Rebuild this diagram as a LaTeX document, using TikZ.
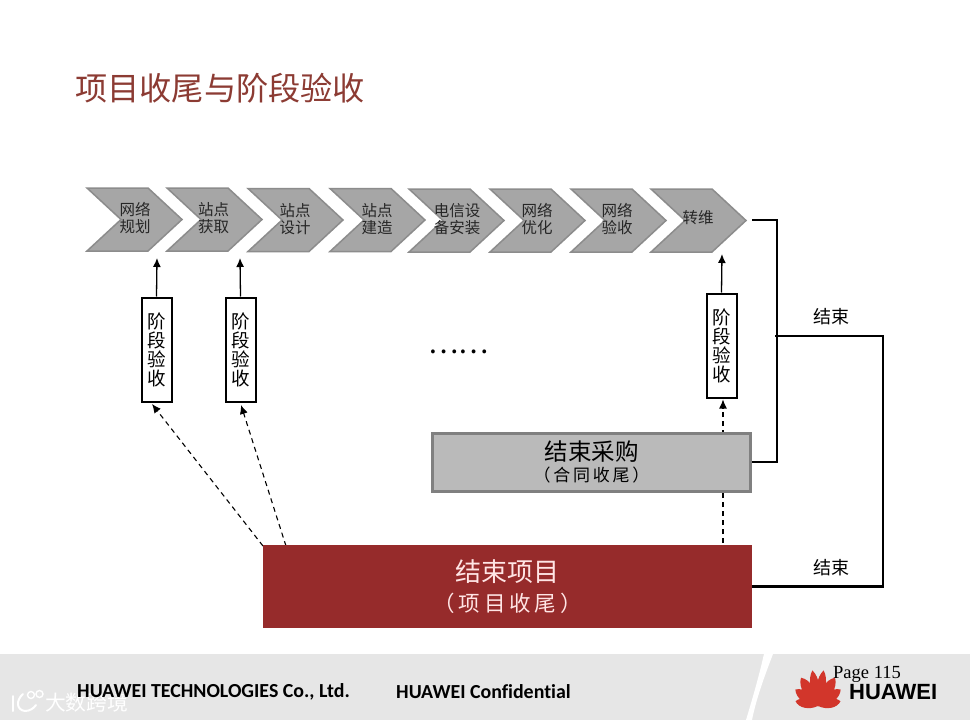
\documentclass[tikz,border=0pt]{standalone}
\usepackage{fontspec}
\setmainfont{Noto Sans CJK SC}
\newfontfamily\latinf[Ligatures=NoCommon]{Carlito}
\newfontfamily\logof{Liberation Sans}
\newfontfamily\pagef{Liberation Serif}
\usetikzlibrary{arrows.meta}
\definecolor{chev}{HTML}{A6A6A6}
\definecolor{chevb}{HTML}{8C8C8C}
\definecolor{darkred}{HTML}{962B2B}
\definecolor{titlec}{HTML}{8C3B33}
\definecolor{band}{HTML}{E6E6E6}
\definecolor{logored}{HTML}{D2362B}
\tikzset{
  x=1pt,y=-1pt,
  chevlabel/.style={font=\fontsize{15.5}{17}\selectfont,align=center,text=black!85},
  stagebox/.style={draw=black,line width=2pt,fill=white,minimum width=30pt,minimum height=104pt,inner sep=0pt,align=center,font=\fontsize{18.5}{19}\selectfont},
  solidarrow/.style={line width=1.3pt,-{Latex[length=9pt,width=8pt]}},
  dasharrow/.style={line width=1.1pt,dash pattern=on 5pt off 4pt,-{Latex[length=9pt,width=8pt]}},
  joinline/.style={line width=1.6pt},
  endline/.style={line width=2.6pt},
  endlabel/.style={font=\fontsize{18}{19}\selectfont},
  markstroke/.style={draw=white,line width=2pt,line cap=round}
}
\newcommand{\chevshape}[2]{%
  \draw[fill=chev,draw=chevb,line width=1.5pt,line join=miter]
    (#1,#2) -- ++(61,0) -- ++(34,31.5) -- ++(-34,31.5) -- ++(-61,0) -- ++(34,-31.5) -- cycle;}
\newcommand{\logopetal}[3]{% angle, length, half-width
  \fill[logored,shift={(818,706)},rotate=#1] (0,0) .. controls (-#3,-0.35*#2) and (-#3,-0.8*#2) .. (0,-#2) .. controls (#3,-0.8*#2) and (#3,-0.35*#2) .. (0,0) -- cycle;}
\begin{document}
\begin{tikzpicture}
\useasboundingbox (0,0) rectangle (970,720);
\fill[white] (0,0) rectangle (970,720);
% footer
\fill[band] (0,654) rectangle (970,720);
\fill[white] (764,654) .. controls (758,680) and (752,700) .. (746,720) -- (752,720) .. controls (756,700) and (763,680) .. (773,654) -- cycle;
% title
\node[anchor=west,inner sep=0pt,text=titlec,font=\fontsize{32.2}{34}\selectfont] (title) at (75,88) {项目收尾与阶段验收};
% chevrons
\chevshape{87}{188}
\chevshape{167}{188}
\chevshape{248}{188.5}
\chevshape{330}{188.5}
\chevshape{409}{189}
\chevshape{490}{189}
\chevshape{571}{189}
\chevshape{651}{189}
\node[chevlabel] (c1) at (135,218) {网络\\规划};
\node[chevlabel] (c2) at (213.5,218) {站点\\获取};
\node[chevlabel] (c3) at (295,219) {站点\\设计};
\node[chevlabel] (c4) at (377,219) {站点\\建造};
\node[chevlabel] (c5) at (457,219) {电信设\\备安装};
\node[chevlabel] (c6) at (537,219) {网络\\优化};
\node[chevlabel] (c7) at (617,219) {网络\\验收};
\node[chevlabel] (c8) at (698,218) {转维};
\coordinate (c1in) at (157,258);
\coordinate (c2in) at (240,258);
\coordinate (c8in) at (722,254);
\coordinate (c8out) at (752,220);
% stage boxes
\node[stagebox] (s1) at (156.5,349.5) {阶\\段\\验\\收};
\node[stagebox] (s2) at (240.5,349.5) {阶\\段\\验\\收};
\node[stagebox] (s3) at (721.5,345.5) {阶\\段\\验\\收};
\node[inner sep=0pt,font=\fontsize{28.5}{29}\selectfont] (dots) at (458.5,352) {……};
% dashed first so boxes lie on them
\coordinate (r1) at (263,546);
\coordinate (r2) at (286,546);
\coordinate (r3) at (723,543);
\draw[dasharrow] (r1) -- (152,404);
\draw[dasharrow] (r2) -- (241,405);
\draw[dasharrow] (r3) -- (723,399.5);
\draw[solidarrow] (s1.north) -- (c1in);
\draw[solidarrow] (s2.north) -- (c2in);
\draw[solidarrow] (s3.north) -- (c8in);
% boxes
\node[draw=black!50,line width=3pt,fill=black!27,minimum width=318pt,minimum height=58pt,inner sep=0pt,align=center] (proc) at (591.5,462)
  {{\fontsize{23.5}{25}\selectfont 结束采购}\\[3pt]{\fontsize{17}{20}\addfontfeature{LetterSpace=16}\selectfont （合同收尾）}};
\node[fill=darkred,text=white!90!red,minimum width=489pt,minimum height=83pt,inner sep=0pt,align=center] (proj) at (507.5,586.5)
  {{\fontsize{26}{28}\selectfont 结束项目}\\[8pt]{\fontsize{21.5}{23}\addfontfeature{LetterSpace=18}\selectfont （项目收尾）}};
% connectors
\coordinate (bus) at (775,336);
\draw[joinline] (c8out) -| (777,462) -- (proc.east);
\draw[endline] (bus) -- (883,336) |- (proj.east);
\node[endlabel] (e1) at (831,317) {结束};
\node[endlabel] (e2) at (831,568) {结束};
% watermark
\node[anchor=west,inner sep=0pt,text=white,font=\fontsize{20.75}{21}\selectfont] (wm) at (45,703) {大数跨境};
\draw[markstroke] (13,696) -- (13,711);
\draw[markstroke] (23,694) .. controls (16,700) and (16,710) .. (25,711) .. controls (30,711) and (34,708) .. (36,705);
\draw[draw=white,line width=1.4pt] (31,695) circle[radius=3.5];
\draw[draw=white,line width=1.4pt] (39.5,694) circle[radius=3.5];
% footer text
\node[anchor=west,inner sep=0pt,font=\latinf\bfseries\fontsize{19.9}{21}\selectfont] (f1) at (77,691.5) {HUAWEI TECHNOLOGIES Co., Ltd.};
\node[anchor=west,inner sep=0pt,font=\latinf\bfseries\fontsize{19.9}{21}\selectfont] (f2) at (396,691.5) {HUAWEI Confidential};
% logo petals
\logopetal{-78}{23}{6}
\logopetal{78}{23}{6}
\logopetal{-54}{28}{7}
\logopetal{54}{28}{7}
\logopetal{-31}{33}{7.5}
\logopetal{31}{33}{7.5}
\logopetal{-9}{36}{6}
\logopetal{9}{36}{6}
\node[anchor=west,inner sep=0pt,font=\logof\bfseries\fontsize{22}{23}\selectfont] (f3) at (849,692.5) {HUAWEI};
\node[anchor=west,inner sep=0pt,font=\pagef\fontsize{18.5}{19}\selectfont] (f4) at (833,674) {Page 115};
\end{tikzpicture}
\end{document}
